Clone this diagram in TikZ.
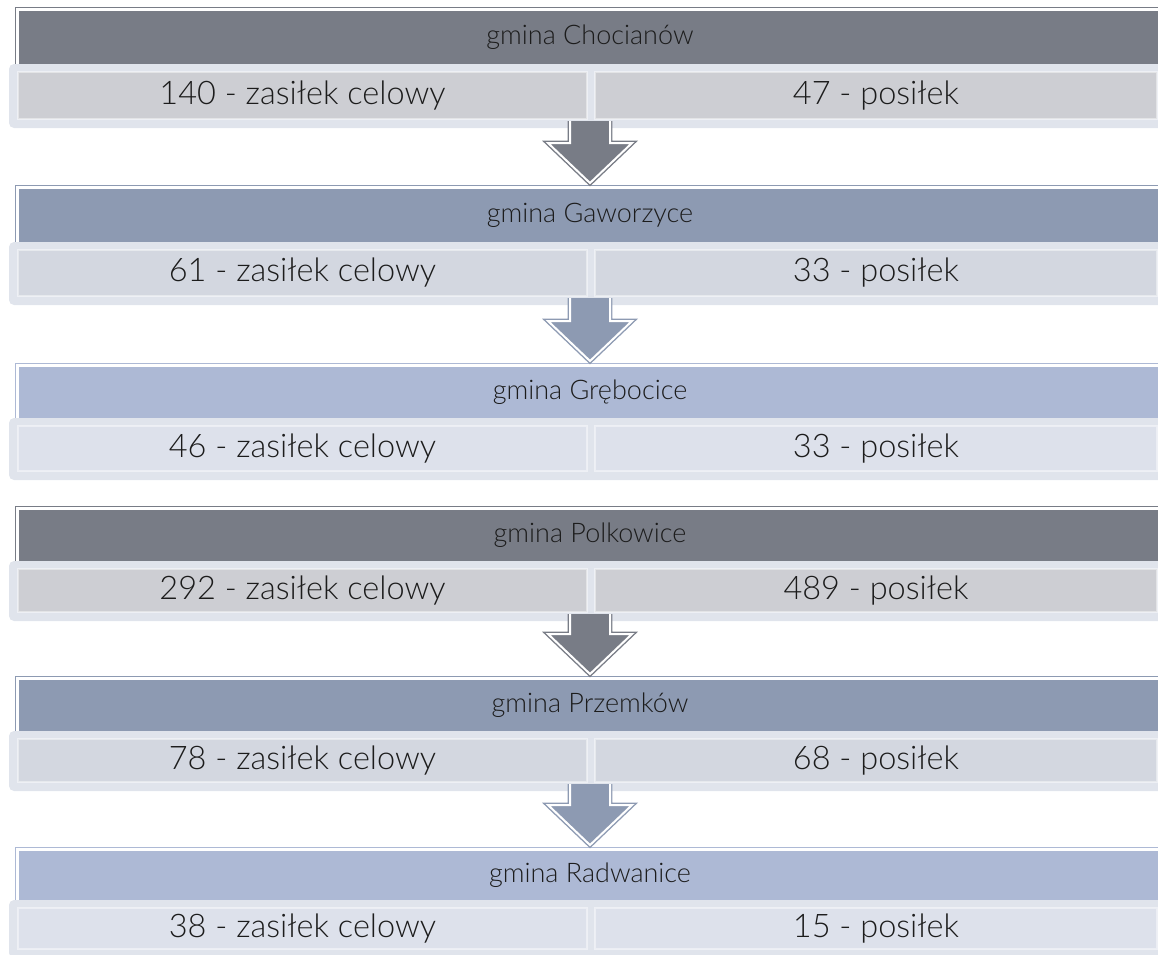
\documentclass[tikz,border=0pt]{standalone}
\usepackage{fontspec}
\setmainfont{Lato Light}
\usetikzlibrary{calc}

\definecolor{hdrdark}{HTML}{787C86}
\definecolor{hdrmid}{HTML}{8D9AB2}
\definecolor{hdrlight}{HTML}{ADB9D5}
\definecolor{celldark}{HTML}{CDCED3}
\definecolor{cellmid}{HTML}{D3D7E0}
\definecolor{celllight}{HTML}{DDE1EB}
\definecolor{rowbg}{HTML}{DDE1EA}
\definecolor{ink}{HTML}{1C1C1C}

\tikzset{
  hdrbox/.style={inner sep=0pt, outer sep=0pt, anchor=north west, minimum width=1143pt,
    text=ink, font=\fontsize{27}{32}\selectfont},
  rowbox/.style={inner sep=0pt, outer sep=0pt, anchor=north west, minimum width=1170pt,
    fill=rowbg, opacity=.9, rounded corners=5pt},
  cellbox/.style={inner sep=0pt, outer sep=0pt, anchor=north west, draw=white, draw opacity=.45,
    line width=1.2pt, text=ink, font=\fontsize{32.5}{38}\selectfont}
}

% arrow from a row box down to the next header
\newcommand\flowarrow[3]{%
  \draw[#3, line width=4.8pt, line join=miter] let \p1=(#1.south), \p2=(#2.north) in
    (\x2-20pt,\y1+7pt) -- (\x2-20pt,\y2+45.5pt) -- (\x2-42pt,\y2+45.5pt) -- (\x2,\y2+5.5pt)
    -- (\x2+42pt,\y2+45.5pt) -- (\x2+20pt,\y2+45.5pt) -- (\x2+20pt,\y1+7pt);
  \fill[#3] let \p1=(#1.south), \p2=(#2.north) in
    (\x2-20pt,\y1+7pt) -- (\x2-20pt,\y2+45.5pt) -- (\x2-42pt,\y2+45.5pt) -- (\x2,\y2+5.5pt)
    -- (\x2+42pt,\y2+45.5pt) -- (\x2+20pt,\y2+45.5pt) -- (\x2+20pt,\y1+7pt) -- cycle;
  \draw[white, line width=2pt, line join=miter] let \p1=(#1.south), \p2=(#2.north) in
    (\x2-20pt,\y1+7pt) -- (\x2-20pt,\y2+45.5pt) -- (\x2-42pt,\y2+45.5pt) -- (\x2,\y2+5.5pt)
    -- (\x2+42pt,\y2+45.5pt) -- (\x2+20pt,\y2+45.5pt) -- (\x2+20pt,\y1+7pt);
}

\begin{document}
\begin{tikzpicture}[x=1pt, y=-1pt]
\useasboundingbox (0,0) rectangle (1158,954);
\clip (0,0) rectangle (1158,954);

\foreach \i/\t/\hb/\rb/\hc/\cc/\name/\lt/\rt in {
  1/7/64/128/hdrdark/celldark/Chocianów/140/47,
  2/185/242/305/hdrmid/cellmid/Gaworzyce/61/33,
  3/363/418/480/hdrlight/celllight/Grębocice/46/33,
  4/506/561/621/hdrdark/celldark/Polkowice/292/489,
  5/676/731/791/hdrmid/cellmid/Przemków/78/68,
  6/847/900/958/hdrlight/celllight/Radwanice/38/15}{
  \pgfmathsetmacro\hh{\hb-\t-3.5}
  \pgfmathsetmacro\rh{\rb-\hb}
  \pgfmathsetmacro\ch{\rb-\hb-17}
  % header with frame
  \draw[\hc, line width=1.3pt] (15.6,\hb) |- (1170,\t+0.6);
  \node[hdrbox, fill=\hc, minimum height=\hh pt] (h\i) at (18.5,\t+3.5) {gmina \name};
  % row with two cells
  \node[rowbox, minimum height=\rh pt] (c\i) at (9,\hb) {};
  \node[cellbox, fill=\cc, minimum width=569pt, minimum height=\ch pt] (l\i) at (18,\hb+8) {\lt{} - zasiłek celowy};
  \node[cellbox, fill=\cc, minimum width=562pt, minimum height=\ch pt] (r\i) at (595,\hb+8) {\rt{} - posiłek};
}

\flowarrow{c1}{h2}{hdrdark}
\flowarrow{c2}{h3}{hdrmid}
\flowarrow{c4}{h5}{hdrdark}
\flowarrow{c5}{h6}{hdrmid}
\end{tikzpicture}
\end{document}
